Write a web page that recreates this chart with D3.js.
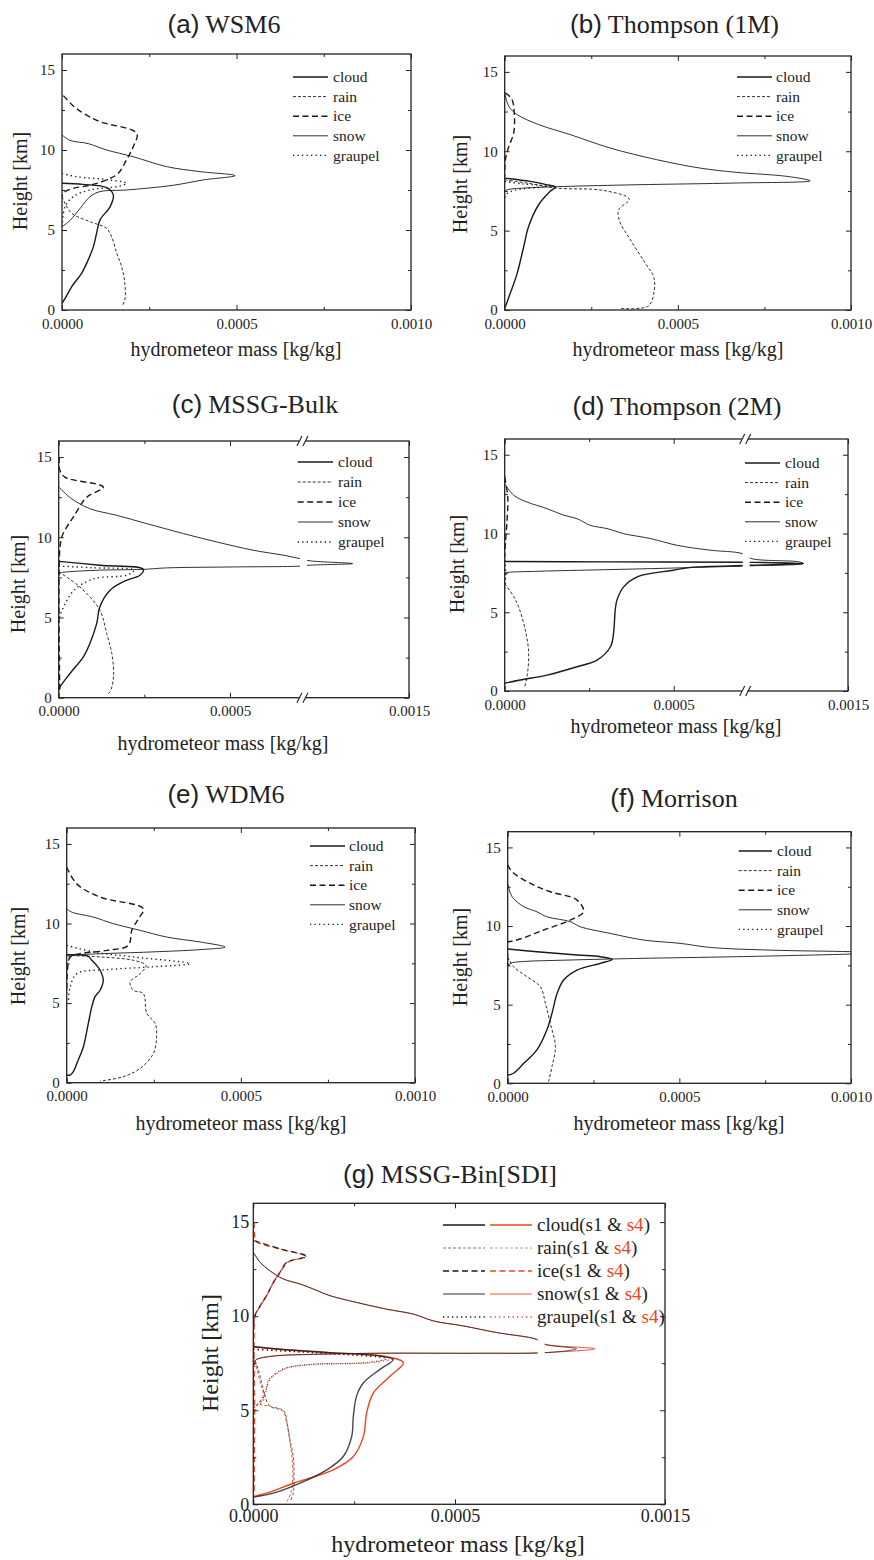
<!DOCTYPE html>
<html>
<head>
<meta charset="utf-8">
<script src="https://cdn.jsdelivr.net/npm/d3@7"></script>
<style>
body { margin: 0; background: #fff; }
text { font-family: "Liberation Serif", "Times New Roman", serif; fill: #222; }
</style>
</head>
<body>
<svg id="chart" width="874" height="1560"></svg>
<script>
// hydrometeor mass profiles, [mass in 1e-4 kg/kg, height in km]
const species = ["cloud", "rain", "ice", "snow", "graupel"];

// (a) WSM6
const a_cloud = [[0,7.92],[0.6,7.85],[1.28,7.65],[1.47,7.2],[1.38,6.46],[1.09,5.63],[0.99,4.79],[0.9,3.96],[0.75,3.13],[0.56,2.29],[0.28,1.46],[0.09,0.73],[0,0.42]];
const a_rain = [[0,7.1],[0.1,6.6],[0.28,6.04],[0.8,5.52],[1.28,5.1],[1.42,4.58],[1.57,3.54],[1.71,2.7],[1.8,1.67],[1.8,0.62],[1.71,0.21]];
const a_ice = [[0.04,13.4],[0.3,12.8],[0.61,12.3],[1.09,11.77],[2.14,11.04],[2.04,10.2],[1.85,9.4],[1.61,8.54],[1.28,8.13],[0.8,7.8],[0.32,7.6],[0.09,7.4],[0,7.1]];
const a_snow = [[0,10.94],[0.23,10.6],[0.75,10.4],[1.28,10.0],[2.04,9.58],[3.0,8.96],[3.95,8.65],[4.96,8.4],[4.05,8.13],[3.2,7.8],[1.85,7.5],[1.09,7.4],[0.8,7.08],[0.52,6.35],[0.23,5.6],[0,5.2]];
const a_graupel = [[0,8.54],[0.42,8.33],[1.38,8.13],[1.85,7.92],[1.6,7.72],[0.8,7.5],[0.32,7.08],[0.09,6.46],[0,5.2]];

// (b) Thompson (1M)
const b_cloud = [[0,8.31],[0.74,8.1],[1.2,7.9],[1.46,7.74],[1.3,7.45],[0.98,6.63],[0.69,5.26],[0.55,4.0],[0.36,2.31],[0.16,1.05],[0.02,0.21]];
const b_rain = [[0,8.2],[0.64,8.0],[1.5,7.68],[2.86,7.53],[3.6,6.98],[3.29,6.31],[3.32,5.58],[3.63,4.42],[4.06,2.95],[4.3,2.1],[4.32,1.26],[4.15,0.25],[3.34,0.1]];
const b_ice = [[0.02,13.68],[0.21,13.26],[0.28,12.2],[0.26,11.15],[0.12,10.3],[0.02,9.47],[0,8.4]];
const b_snow = [[0,13.68],[0.12,12.83],[0.36,12.31],[0.98,11.68],[1.89,11.05],[3.05,10.2],[4.39,9.47],[5.64,8.94],[6.7,8.67],[8.14,8.42],[8.82,8.14],[6.7,8.0],[3.82,7.89],[1.7,7.78],[0.55,7.68],[0.07,7.57],[0,7.47]];
const b_graupel = [[0,8.1],[0.5,7.95],[1.2,7.8],[0.3,7.55],[0.05,7.3],[0,7.0]];

// (c) MSSG-Bulk
const c_cloud = [[0,8.5],[1.2,8.26],[2.47,8.0],[2.37,7.63],[1.98,7.32],[1.5,6.7],[1.2,5.66],[1.11,4.63],[0.91,3.38],[0.72,2.55],[0.33,1.51],[0.04,0.68],[0,0.48]];
const c_rain = [[0,7.84],[0.62,6.9],[1.2,5.46],[1.4,4.0],[1.55,2.76],[1.6,1.31],[1.5,0.37],[1.4,0.17]];
const c_ice = [[0.02,15],[0.03,14.2],[0.18,13.75],[1.3,13.13],[0.82,12.5],[0.43,11.27],[0.18,10.44],[0.09,10.0],[0.03,9.2],[0.03,0.5]];
const c_snow = [[0,13.13],[0.38,12.4],[0.91,11.78],[1.69,11.37],[2.57,10.85],[3.64,10.23],[4.61,9.71],[5.68,9.19],[6.56,8.88],[7.04,8.67],[7.71,8.53],[10.85,8.36],[7.71,8.26],[7.04,8.2],[5.1,8.15],[3.15,8.09],[2.47,8.0],[1.2,7.95],[0.23,7.84],[0,7.78]];
const c_graupel = [[0,8.2],[1.0,8.1],[2.2,7.95],[2.0,7.65],[1.0,7.4],[0.45,6.7],[0.2,5.9],[0.05,5.2],[0,4.8]];

// (d) Thompson (2M)
const d_cloud = [[0,8.22],[3,8.2],[7.1,8.17],[11.6,8.1],[7.6,7.98],[5.5,7.85],[5.0,7.67],[3.92,7.25],[3.52,6.61],[3.32,5.77],[3.27,5.13],[3.22,3.66],[3.13,2.81],[2.73,1.96],[2.14,1.54],[1.25,1.01],[0.46,0.7],[0,0.49]];
const d_rain = [[0,6.82],[0.27,5.98],[0.41,5.35],[0.61,3.87],[0.71,2.39],[0.66,0.91],[0.58,0.17]];
const d_ice = [[0,13.59],[0.09,12.32],[0.07,10.84],[0.02,9.36],[0,8.5]];
const d_snow = [[0,13.16],[0.27,12.42],[0.66,12.0],[1.25,11.58],[1.75,11.16],[2.14,10.94],[2.53,10.52],[3.03,10.31],[3.52,9.99],[4.31,9.68],[5.1,9.25],[6.08,8.94],[7.02,8.73],[7.6,8.41],[11.26,8.2],[11.6,8.09],[7.6,7.95],[4.87,7.8],[2.93,7.7],[0.96,7.6],[0.07,7.52],[0,7.46]];
const d_graupel = [[0,8.3],[0.03,7.6],[0.02,7.0],[0,6.5]];

// (e) WDM6
const e_cloud = [[0,8.04],[0.62,7.94],[0.72,7.69],[0.86,7.37],[0.96,7.06],[1.05,6.43],[0.96,5.81],[0.81,5.39],[0.72,4.76],[0.62,3.72],[0.48,2.26],[0.33,1.42],[0.19,0.69],[0.1,0.48],[0,0.48]];
const e_rain = [[0,8.0],[0.96,7.9],[1.91,7.69],[2.28,7.37],[2.11,6.85],[1.82,6.33],[1.91,5.81],[2.2,5.6],[2.3,4.35],[2.54,3.72],[2.58,2.88],[2.49,1.84],[2.11,0.9],[1.63,0.38],[0.96,0.1]];
const e_ice = [[0,13.54],[0.29,12.49],[0.96,11.66],[2.2,10.93],[2.06,10.3],[1.87,9.57],[1.77,8.63],[1.15,8.31],[0.38,8.1],[0.1,7.9],[0.03,7.27],[0,5.6]];
const e_snow = [[0,10.93],[0.14,10.72],[0.77,10.4],[1.34,9.99],[2.11,9.57],[2.87,9.15],[3.83,8.84],[4.55,8.52],[3.83,8.36],[2.39,8.21],[0.96,8.1],[0.19,8.0],[0.05,7.9]];
const e_graupel = [[0,8.63],[0.77,8.21],[1.91,7.9],[3.54,7.48],[2.39,7.27],[1.15,7.1],[0.29,6.85],[0.1,6.02],[0.05,5.18]];

// (f) Morrison
const f_cloud = [[0,8.54],[0.85,8.37],[2.02,8.16],[2.7,8.05],[3.04,7.88],[2.7,7.63],[2.02,7.2],[1.63,6.57],[1.44,5.72],[1.29,4.45],[1.14,3.39],[0.85,2.12],[0.47,1.27],[0.17,0.64],[0.03,0.53],[0,0.5]];
const f_rain = [[0,8.05],[0.17,7.42],[0.56,6.78],[0.95,6.14],[1.1,5.08],[1.24,3.81],[1.39,2.33],[1.29,1.06],[1.19,0.11]];
const f_ice = [[0,13.9],[0.13,13.45],[0.66,12.71],[1.24,12.18],[2.02,11.65],[2.21,10.91],[1.82,10.38],[1.05,9.75],[0.27,9.11],[0,9.0]];
const f_snow = [[0,12.71],[0.13,11.86],[0.47,11.23],[0.85,10.91],[1.14,10.59],[1.82,10.28],[2.11,9.96],[2.99,9.53],[3.96,9.11],[5.02,8.9],[5.9,8.64],[7.64,8.47],[10,8.37],[11,8.3],[10,8.22],[6.67,8.05],[3.76,7.94],[1.82,7.84],[0.37,7.73],[0.08,7.63],[0,7.42]];
const f_graupel = [[0,8.2],[0.02,7.8],[0,7.4]];

// (g) MSSG-Bin[SDI], case s1 (black) and s4 (red)
const g_cloud_s1 = [[0,8.38],[0.66,8.24],[1.9,8.06],[3.14,7.88],[3.47,7.7],[3.14,7.17],[2.73,6.46],[2.56,5.75],[2.48,4.68],[2.44,3.61],[2.23,2.54],[1.82,1.83],[1.16,1.12],[0.5,0.59],[0.08,0.41],[0,0.37]];
const g_rain_s1 = [[0,7.88],[0.12,7.17],[0.21,6.46],[0.29,5.75],[0.41,5.21],[0.74,4.95],[0.83,4.32],[0.91,3.43],[0.99,2.54],[1.01,1.48],[0.99,0.59],[0.91,0.14]];
const g_ice_s1 = [[0.02,14.02],[0.66,13.58],[1.32,13.18],[0.83,12.86],[0.66,12.33],[0.5,11.8],[0.33,11.09],[0.17,10.55],[0.04,10.02],[0,9.13]];
const g_snow_s1 = [[0,13.4],[0.17,12.86],[0.41,12.42],[0.74,11.98],[1.16,11.71],[1.49,11.44],[1.9,11.09],[2.56,10.73],[3.31,10.37],[3.97,10.11],[4.46,9.75],[5.21,9.48],[6.03,9.13],[7.02,8.77],[7.42,8.5],[9.42,8.27],[7.52,8.06],[5.62,8.03],[3.14,8.03],[1.49,7.97],[0.5,7.88],[0.08,7.7],[0,7.53]];
const g_graupel_s1 = [[0,8.24],[1.49,8.06],[3.31,7.74],[2.81,7.53],[1.49,7.44],[0.83,7.26],[0.58,6.99],[0.41,6.64],[0.29,5.93],[0.17,5.39],[0.04,5.21],[0,4.68]];

const g_cloud_s4 = [[0,8.38],[0.66,8.24],[1.9,8.06],[3.2,7.88],[3.72,7.53],[3.39,6.81],[2.98,5.93],[2.81,4.86],[2.73,3.61],[2.48,2.54],[1.98,1.83],[0.99,1.12],[0.33,0.59],[0,0.41]];
const g_rain_s4 = [[0,7.85],[0.1,7.1],[0.18,6.4],[0.25,5.8],[0.15,5.35],[0.45,5.2],[0.76,4.95],[0.84,4.3],[0.9,3.4],[0.96,2.5],[0.98,1.5],[0.93,0.6],[0.83,0.14]];
const g_ice_s4 = [[0.02,15],[0.03,14.4],[0.06,14.0],[0.68,13.56],[1.3,13.18],[0.85,12.86],[0.66,12.3],[0.5,11.8],[0.33,11.1],[0.16,10.5],[0.04,10.0],[0.02,9.1],[0.03,5.0],[0.02,0.5]];
const g_snow_s4 = [[0,13.4],[0.17,12.86],[0.41,12.42],[0.74,11.98],[1.16,11.71],[1.49,11.44],[1.9,11.09],[2.56,10.73],[3.31,10.37],[3.97,10.11],[4.46,9.75],[5.21,9.48],[6.03,9.13],[7.02,8.77],[7.42,8.52],[10.58,8.27],[7.52,8.07],[5.62,8.03],[3.14,8.03],[1.49,7.97],[0.5,7.88],[0.08,7.7],[0,7.53]];
const g_graupel_s4 = [[0,8.24],[1.5,8.06],[3.45,7.74],[2.9,7.53],[1.5,7.44],[0.85,7.26],[0.55,6.9],[0.38,6.6],[0.3,5.9],[0.2,5.4],[0.08,5.25],[0,4.6]];

const yMajor = [0, 5, 10, 15];
const yMinor = [2.5, 7.5, 12.5];

const styles = {
    cloud:   { w: 1.4, dash: null },
    rain:    { w: 0.9, dash: "3,2" },
    ice:     { w: 1.4, dash: "6,3.5" },
    snow:    { w: 0.9, dash: null },
    graupel: { w: 1.4, dash: "1.3,3.2" }
};
const black = "#1a1a1a";
const red = "#ef4423";

const small = { title: 26, label: 20, tick: 15, legend: 15.5, ypad: 7, xpad: 8 };
const large = { title: 26, label: 24, tick: 18, legend: 19, ypad: 4, xpad: 5 };

const panels = [
    { id: "a", tag: "(a)", name: "WSM6", l: 62, r: 411, t: 54, b: 310, xmax: 10,
      title: [224, 33], xlab: [236, 356], ylab: [20, 181], leg: [293, 328, 333, 77, 19.6],
      layers: [{ color: black, data: { cloud: a_cloud, rain: a_rain, ice: a_ice, snow: a_snow, graupel: a_graupel } }] },
    { id: "b", tag: "(b)", name: "Thompson (1M)", l: 504.7, r: 851, t: 56, b: 310, xmax: 10,
      title: [674.5, 33], xlab: [678, 356], ylab: [460, 184], leg: [737, 772, 776, 77, 19.6],
      layers: [{ color: black, data: { cloud: b_cloud, rain: b_rain, ice: b_ice, snow: b_snow, graupel: b_graupel } }] },
    { id: "c", tag: "(c)", name: "MSSG-Bulk", l: 58.7, r: 409, t: 441, b: 697.7, xmax: 15, brk: 7.1, x05: 230, marks: true,
      title: [255, 413], xlab: [223, 750], ylab: [18, 584], leg: [297.7, 333, 338, 462, 20],
      layers: [{ color: black, data: { cloud: c_cloud, rain: c_rain, ice: c_ice, snow: c_snow, graupel: c_graupel } }] },
    { id: "d", tag: "(d)", name: "Thompson (2M)", l: 504.7, r: 848, t: 439, b: 691, xmax: 15, brk: 7.1, x05: 673.7, marks: true,
      title: [677, 415], xlab: [676, 733], ylab: [457, 564], leg: [745, 780, 785, 463, 19.6],
      layers: [{ color: black, data: { cloud: d_cloud, rain: d_rain, ice: d_ice, snow: d_snow, graupel: d_graupel } }] },
    { id: "e", tag: "(e)", name: "WDM6", l: 66.7, r: 415, t: 828, b: 1082.7, xmax: 10,
      title: [226, 803], xlab: [241, 1130], ylab: [18, 956], leg: [310, 345, 349, 846, 19.6],
      layers: [{ color: black, data: { cloud: e_cloud, rain: e_rain, ice: e_ice, snow: e_snow, graupel: e_graupel } }] },
    { id: "f", tag: "(f)", name: "Morrison", l: 507.7, r: 851, t: 831.7, b: 1083.3, xmax: 10,
      title: [674, 807], xlab: [679, 1130], ylab: [460, 957], leg: [738.7, 772, 777, 851, 19.6],
      layers: [{ color: black, data: { cloud: f_cloud, rain: f_rain, ice: f_ice, snow: f_snow, graupel: f_graupel } }] },
    { id: "g", tag: "(g)", name: "MSSG-Bin[SDI]", l: 253.3, r: 665, t: 1203.3, b: 1504.3, xmax: 15, brk: 7.1, x05: 455, big: true,
      title: [450, 1183], xlab: [458, 1552], ylab: [210, 1353], leg: [443, 485, 537, 1225, 23, 490, 532],
      layers: [
        { color: red, data: { cloud: g_cloud_s4, rain: g_rain_s4, ice: g_ice_s4, snow: g_snow_s4, graupel: g_graupel_s4 } },
        { color: black, op: 0.8, data: { cloud: g_cloud_s1, rain: g_rain_s1, ice: g_ice_s1, snow: g_snow_s1, graupel: g_graupel_s1 } }
      ] }
];

const svg = d3.select("#chart");
const serif = "Liberation Serif, Times New Roman, serif";

function drawPanel(p) {
    const fs = p.big ? large : small;
    const g = svg.append("g");
    const bx = p.brk ? p.l + (p.x05 - p.l) * p.brk / 5 : null;
    const x = d3.scaleLinear()
        .domain(p.brk ? [0, p.brk, p.xmax] : [0, p.xmax])
        .range(p.brk ? [p.l, bx, p.r] : [p.l, p.r]);
    const y = d3.scaleLinear().domain([0, 16]).range([p.b, p.t]);

    svg.append("clipPath").attr("id", "clip-" + p.id)
        .append("rect").attr("x", p.l).attr("y", p.t).attr("width", p.r - p.l).attr("height", p.b - p.t);

    const line = d3.line()
        .x(d => x(d[0]))
        .y(d => y(d[1]))
        .curve(d3.curveCatmullRom.alpha(0.5));

    const plot = g.append("g").attr("clip-path", "url(#clip-" + p.id + ")");
    p.layers.forEach(layer => {
        species.forEach(s => {
            plot.append("path")
                .datum(layer.data[s])
                .attr("d", line)
                .attr("fill", "none")
                .attr("stroke", layer.color)
                .attr("stroke-opacity", layer.op || 1)
                .attr("stroke-width", styles[s].w)
                .attr("stroke-dasharray", styles[s].dash);
        });
    });

    // gap of the broken axis
    if (p.brk) {
        g.append("rect").attr("x", bx - 2).attr("y", p.t + 1).attr("width", 7).attr("height", p.b - p.t - 2).attr("fill", "#fff");
    }

    // frame
    g.append("rect").attr("x", p.l).attr("y", p.t).attr("width", p.r - p.l).attr("height", p.b - p.t)
        .attr("fill", "none").attr("stroke", "#222").attr("stroke-width", 1.3);

    const xMajor = p.brk ? [0, 5, 15] : [0, 5, 10];
    const xMinor = p.brk ? [2.5] : [2.5, 7.5];
    const fmt = d => (d * 1e-4).toFixed(4);

    const axes = [
        [d3.axisBottom(x).tickValues(xMajor).tickSize(-5).tickPadding(fs.xpad).tickFormat(fmt), `translate(0,${p.b})`],
        [d3.axisBottom(x).tickValues(xMinor).tickSize(-3).tickFormat(""), `translate(0,${p.b})`],
        [d3.axisTop(x).tickValues(xMajor).tickSize(-5).tickFormat(""), `translate(0,${p.t})`],
        [d3.axisTop(x).tickValues(xMinor).tickSize(-3).tickFormat(""), `translate(0,${p.t})`],
        [d3.axisLeft(y).tickValues(yMajor).tickSize(-5).tickPadding(fs.ypad), `translate(${p.l},0)`],
        [d3.axisLeft(y).tickValues(yMinor).tickSize(-3).tickFormat(""), `translate(${p.l},0)`],
        [d3.axisRight(y).tickValues(yMajor).tickSize(-5).tickFormat(""), `translate(${p.r},0)`],
        [d3.axisRight(y).tickValues(yMinor).tickSize(-3).tickFormat(""), `translate(${p.r},0)`]
    ];
    axes.forEach(([ax, tr]) => {
        g.append("g").attr("transform", tr).call(ax)
            .attr("font-family", serif).attr("font-size", fs.tick).attr("color", "#222")
            .call(a => a.select(".domain").remove());
    });

    // break marks on the top and bottom axes
    if (p.marks) {
        [p.t, p.b].forEach(yy => {
            g.append("rect").attr("x", bx - 3).attr("y", yy - 2).attr("width", 6).attr("height", 4).attr("fill", "#fff");
            [-5, 1].forEach(o => {
                g.append("line").attr("x1", bx + o).attr("y1", yy + 5).attr("x2", bx + o + 5).attr("y2", yy - 5)
                    .attr("stroke", "#222").attr("stroke-width", 1.1);
            });
        });
    }

    // title
    const tt = g.append("text").attr("x", p.title[0]).attr("y", p.title[1])
        .attr("text-anchor", "middle").attr("font-size", fs.title);
    tt.append("tspan").attr("font-family", "Liberation Sans, Arial, sans-serif").text(p.tag);
    tt.append("tspan").attr("dx", 6).text(p.name);

    // axis titles
    g.append("text").attr("x", p.xlab[0]).attr("y", p.xlab[1]).attr("text-anchor", "middle")
        .attr("font-size", fs.label).text("hydrometeor mass [kg/kg]");
    g.append("text").attr("transform", `translate(${p.ylab[0]},${p.ylab[1]}) rotate(-90)`)
        .attr("text-anchor", "middle").attr("dy", "0.35em")
        .attr("font-size", fs.label).text("Height [km]");

    // legend
    const [x1, x2, tx, y0, dy, rx1, rx2] = p.leg;
    species.forEach((s, i) => {
        const yy = y0 + i * dy;
        g.append("line").attr("x1", x1).attr("x2", x2).attr("y1", yy).attr("y2", yy)
            .attr("stroke", s === "rain" && p.big ? "#666" : black)
            .attr("stroke-width", styles[s].w).attr("stroke-dasharray", styles[s].dash);
        const t = g.append("text").attr("x", tx).attr("y", yy).attr("dy", "0.33em").attr("font-size", fs.legend);
        if (p.big) {
            g.append("line").attr("x1", rx1).attr("x2", rx2).attr("y1", yy).attr("y2", yy)
                .attr("stroke", red).attr("stroke-opacity", s === "rain" ? 0.7 : 1)
                .attr("stroke-width", styles[s].w).attr("stroke-dasharray", styles[s].dash);
            t.append("tspan").text(s + "(s1 & ");
            t.append("tspan").style("fill", red).text("s4");
            t.append("tspan").text(")");
        } else {
            t.text(s);
        }
    });
}

panels.forEach(drawPanel);
</script>
</body>
</html>
